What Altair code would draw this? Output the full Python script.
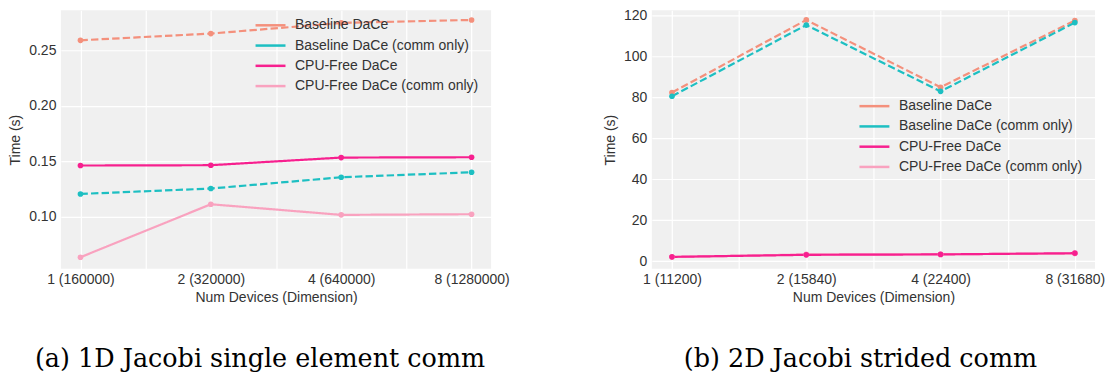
import altair as alt
import pandas as pd

# ---------------- data ----------------
series_names = [
    "Baseline DaCe",
    "Baseline DaCe (comm only)",
    "CPU-Free DaCe",
    "CPU-Free DaCe (comm only)",
]
series_colors = ["#F4907C", "#1DBFC2", "#F7208F", "#F9A2BF"]
series_styles = ["dashed", "dashed", "solid", "solid"]
draw_order = [3, 0, 1, 2]  # light pink drawn first, deep pink on top

device_idx = [0, 1, 2, 3]
left_ticks = ["1 (160000)", "2 (320000)", "4 (640000)", "8 (1280000)"]
right_ticks = ["1 (11200)", "2 (15840)", "4 (22400)", "8 (31680)"]

left_baseline = [0.2593, 0.2654, 0.2750, 0.2777]
left_baseline_comm = [0.1204, 0.1253, 0.1355, 0.1400]
left_cpufree = [0.1461, 0.1464, 0.1533, 0.1536]
left_cpufree_comm = [0.0632, 0.1111, 0.1015, 0.1021]

right_baseline = [82.4, 117.9, 85.0, 117.6]
right_baseline_comm = [80.6, 115.4, 83.0, 116.6]
right_cpufree = [2.1, 3.1, 3.3, 3.9]
right_cpufree_comm = [2.0, 3.3, 3.4, 3.7]

left_yticks = [0.10, 0.15, 0.20, 0.25]
right_yticks = [0, 20, 40, 60, 80, 100, 120]

caption_a = "(a) 1D Jacobi single element comm"
caption_b = "(b) 2D Jacobi strided comm"


def make_df(series_values):
    rows = []
    for k in draw_order:
        for i, v in zip(device_idx, series_values[k]):
            rows.append({"idx": i, "time": v, "series": series_names[k], "style": series_styles[k]})
    return pd.DataFrame(rows)


def label_expr(ticks):
    parts = " : ".join(f"datum.value == {i} ? '{t}'" for i, t in enumerate(ticks))
    return parts + " : ''"


TEXT = "#333333"
SANS = "Liberation Sans"


def panel(df, ticks, ydomain, yvalues, yformat, lx, ly, caption, width, dx):
    x = alt.X(
        "idx:Q",
        scale=alt.Scale(domain=[-0.15, 3.15], nice=False, zero=False),
        axis=alt.Axis(
            values=[0, 0.5, 1, 1.5, 2, 2.5, 3],
            labelExpr=label_expr(ticks),
            title="Num Devices (Dimension)",
            labelPadding=4,
            titlePadding=4,
            labelFlush=False,
            labelOverlap=False,
        ),
    )
    y = alt.Y(
        "time:Q",
        scale=alt.Scale(domain=ydomain, nice=False, zero=False),
        axis=alt.Axis(
            values=yvalues,
            format=yformat,
            title="Time (s)",
            labelPadding=5,
            titlePadding=6,
        ),
    )
    color = alt.Color(
        "series:N",
        scale=alt.Scale(domain=series_names, range=series_colors),
        legend=alt.Legend(
            orient="none",
            legendX=lx,
            legendY=ly,
            title=None,
            labelFont=SANS,
            labelFontSize=14,
            labelColor=TEXT,
            labelOffset=17.5,
            labelLimit=400,
            symbolType="M-3,0H3",
            symbolSize=100,
            symbolStrokeWidth=2.5,
            rowPadding=6.3,
            padding=0,
        ),
    )
    dash = alt.StrokeDash(
        "style:N",
        scale=alt.Scale(domain=["dashed", "solid"], range=[[7.4, 3.2], [1, 0]]),
        legend=None,
    )
    chart = (
        alt.Chart(df)
        .mark_line(strokeWidth=2.2, point=alt.OverlayMarkDef(filled=True, size=32, opacity=1))
        .encode(x=x, y=y, color=color, strokeDash=dash, detail="series:N", order="idx:Q")
        .properties(
            width=width,
            height=259,
            title=alt.TitleParams(
                caption,
                orient="bottom",
                anchor="middle",
                frame="group",
                font="DejaVu Serif",
                fontSize=25.5,
                fontWeight="normal",
                color="#000000",
                offset=42,
                dx=dx,
            ),
        )
    )
    return chart


left_vals = [left_baseline, left_baseline_comm, left_cpufree, left_cpufree_comm]
right_vals = [right_baseline, right_baseline_comm, right_cpufree, right_cpufree_comm]

left = panel(make_df(left_vals), left_ticks, [0.0527, 0.2864], left_yticks, ".2f", 203, 8, caption_a, 431, -16)
right = panel(make_df(right_vals), right_ticks, [-3.76, 122.6], right_yticks, "d", 216, 89, caption_b, 444, -13)

chart = (
    alt.hconcat(left, right, spacing=93)
    .resolve_scale(x="independent", y="independent", color="independent")
    .resolve_legend(color="independent")
    .properties(padding={"left": 0, "top": 0, "right": 0, "bottom": 0}, background="white")
    .configure_view(stroke=None, fill="#F0F0F0")
    .configure_axis(
        grid=True,
        gridColor="white",
        gridWidth=1.2,
        ticks=False,
        domain=False,
        labelFont=SANS,
        labelFontSize=14,
        labelColor=TEXT,
        titleFont=SANS,
        titleFontSize=14,
        titleFontWeight="normal",
        titleColor=TEXT,
    )
)

chart.save("out.html", embed_options={"renderer": "svg", "actions": False})
